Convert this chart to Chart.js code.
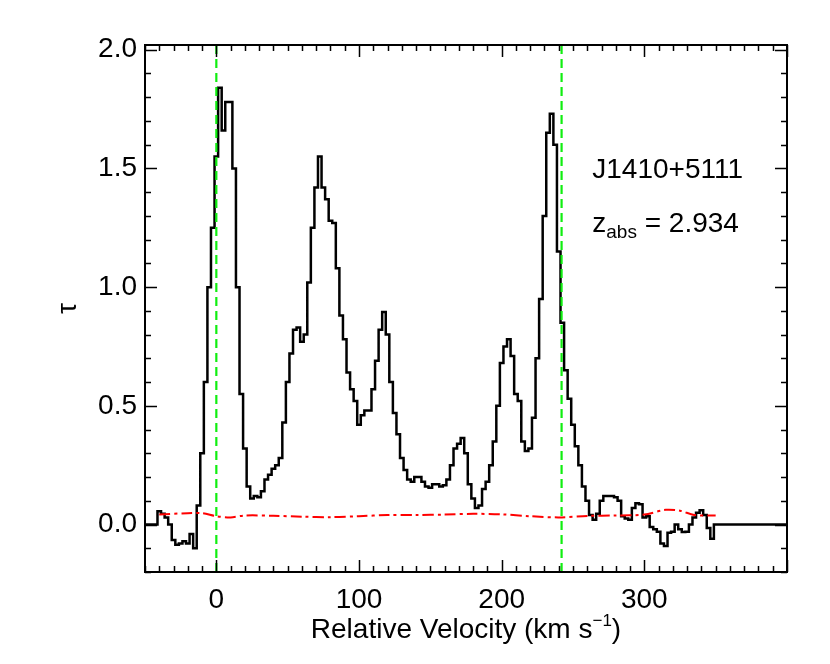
<!DOCTYPE html>
<html>
<head>
<meta charset="utf-8">
<script src="https://cdn.jsdelivr.net/npm/chart.js@4.4.1/dist/chart.umd.min.js"></script>
<style>
  html, body { margin: 0; padding: 0; background: #fff; }
  #plot { display: block; }
</style>
</head>
<body>
<canvas id="plot" width="830" height="664"></canvas>
<script>
// velocity grid (km/s) and optical depth
const velocity = [
  -50, -47.5, -45, -42.5, -40, -37.5, -35, -32.5, -30, -27.5, -25, -22.5, -20, -17.5, -15, -12.5,
  -10, -7.5, -5, -2.5, 0, 2.5, 5, 7.5, 10, 12.5, 15, 17.5, 20, 22.5, 25, 27.5,
  30, 32.5, 35, 37.5, 40, 42.5, 45, 47.5, 50, 52.5, 55, 57.5, 60, 62.5, 65, 67.5,
  70, 72.5, 75, 77.5, 80, 82.5, 85, 87.5, 90, 92.5, 95, 97.5, 100, 102.5, 105, 107.5,
  110, 112.5, 115, 117.5, 120, 122.5, 125, 127.5, 130, 132.5, 135, 137.5, 140, 142.5, 145, 147.5,
  150, 152.5, 155, 157.5, 160, 162.5, 165, 167.5, 170, 172.5, 175, 177.5, 180, 182.5, 185, 187.5,
  190, 192.5, 195, 197.5, 200, 202.5, 205, 207.5, 210, 212.5, 215, 217.5, 220, 222.5, 225, 227.5,
  230, 232.5, 235, 237.5, 240, 242.5, 245, 247.5, 250, 252.5, 255, 257.5, 260, 262.5, 265, 267.5,
  270, 272.5, 275, 277.5, 280, 282.5, 285, 287.5, 290, 292.5, 295, 297.5, 300, 302.5, 305, 307.5,
  310, 312.5, 315, 317.5, 320, 322.5, 325, 327.5, 330, 332.5, 335, 337.5, 340, 342.5, 345, 347.5,
  350, 400
];
const tau = [
  0, 0, 0, 0, 0.056, 0.045, 0.03, 0.0, -0.065, -0.085, -0.08, -0.07, -0.08, -0.04, -0.1, 0.08,
  0.3, 0.6, 1.0, 1.25, 1.55, 1.84, 1.66, 1.78, 1.78, 1.5, 1.0, 0.55, 0.32, 0.16, 0.11, 0.12,
  0.115, 0.14, 0.19, 0.21, 0.235, 0.25, 0.28, 0.43, 0.6, 0.72, 0.82, 0.83, 0.77, 0.8, 1.02, 1.25,
  1.42, 1.55, 1.42, 1.37, 1.28, 1.27, 1.08, 0.88, 0.78, 0.64, 0.57, 0.52, 0.42, 0.46, 0.48, 0.48,
  0.57, 0.69, 0.82, 0.895, 0.8, 0.6, 0.47, 0.38, 0.28, 0.23, 0.19, 0.18, 0.2, 0.2, 0.18, 0.16,
  0.155, 0.17, 0.17, 0.16, 0.165, 0.19, 0.25, 0.32, 0.34, 0.365, 0.3, 0.17, 0.11, 0.07, 0.08, 0.15,
  0.18, 0.25, 0.35, 0.5, 0.68, 0.75, 0.78, 0.71, 0.55, 0.52, 0.35, 0.31, 0.32, 0.45, 0.7, 0.95,
  1.3, 1.65, 1.73, 1.6, 1.15, 0.85, 0.65, 0.53, 0.42, 0.33, 0.25, 0.16, 0.1, 0.04, 0.02, 0.045,
  0.1, 0.12, 0.12, 0.12, 0.115, 0.1, 0.035, 0.025, 0.02, 0.07, 0.09, 0.085, 0.03, 0.035, -0.01, -0.02,
  -0.03, -0.08, -0.09, -0.035, -0.03, 0.0, -0.02, -0.032, -0.03, 0.0, 0.03, 0.05, 0.06, 0.04, -0.015, -0.06,
  0, 0
];

// noise level (red dash-dot)
const noiseVel = [-40, -20, -10, 0, 10, 20, 40, 60, 80, 100, 120, 140, 160, 180, 200, 220, 240, 260, 280, 300, 315, 325, 335, 350];
const noiseTau = [0.042, 0.048, 0.048, 0.035, 0.03, 0.038, 0.037, 0.033, 0.031, 0.035, 0.04, 0.04, 0.042, 0.045, 0.043, 0.035, 0.03, 0.036, 0.038, 0.042, 0.062, 0.058, 0.04, 0.038];

// velocity limits of the absorber (green dashed)
const limitVel = [0, 242];

const xTickLabels = [0, 100, 200, 300];
const yTickLabels = [0, 0.5, 1.0, 1.5, 2.0];
const xRange = [-50, 400];
const yRange = [-0.2, 2.02];

const quasarName = 'J1410+5111';
const zAbs = '2.934';

const FONT = '"Liberation Sans", Arial, Helvetica, sans-serif';
const BIG = 28;

const toPoints = (xs, ys) => xs.map((x, i) => ({ x, y: ys[i] }));

const limitSets = limitVel.map((v) => ({
  data: [{ x: v, y: yRange[0] }, { x: v, y: yRange[1] }],
  borderColor: '#10ee10',
  borderWidth: 2.2,
  borderDash: [9, 5],
  pointRadius: 0,
  fill: false,
  order: 1
}));

// frame, inward ticks, titles and labels in the IDL style
const idlFrame = {
  id: 'idlFrame',
  afterDraw(chart) {
    const { ctx, chartArea: a, scales } = chart;
    const xs = scales.x, ys = scales.y;
    ctx.save();
    ctx.strokeStyle = '#000';
    ctx.lineWidth = 2;
    ctx.strokeRect(a.left, a.top, a.right - a.left, a.bottom - a.top);

    ctx.lineWidth = 1.5;
    ctx.beginPath();
    for (let v = -50; v <= 400; v += 10) {
      const px = Math.round(xs.getPixelForValue(v)) + 0.5;
      const len = v % 100 === 0 ? 12 : 6;
      ctx.moveTo(px, a.bottom); ctx.lineTo(px, a.bottom - len);
      ctx.moveTo(px, a.top); ctx.lineTo(px, a.top + len);
    }
    for (let i = -2; i <= 20; i++) {
      const py = Math.round(ys.getPixelForValue(i / 10)) + 0.5;
      const len = i % 5 === 0 ? 12 : 6;
      ctx.moveTo(a.left, py); ctx.lineTo(a.left + len, py);
      ctx.moveTo(a.right, py); ctx.lineTo(a.right - len, py);
    }
    ctx.stroke();

    ctx.fillStyle = '#000';
    // x title with superscript
    ctx.textBaseline = 'alphabetic';
    ctx.font = BIG + 'px ' + FONT;
    const main = 'Relative Velocity (km s';
    const sup = '\u22121';
    const close = ')';
    const wMain = ctx.measureText(main).width;
    const wClose = ctx.measureText(close).width;
    ctx.font = '17px ' + FONT;
    const wSup = ctx.measureText(sup).width;
    const total = wMain + wSup + wClose;
    const x0 = (a.left + a.right) / 2 - total / 2;
    const base = 638;
    ctx.font = BIG + 'px ' + FONT;
    ctx.textAlign = 'left';
    ctx.fillText(main, x0, base);
    ctx.font = '17px ' + FONT;
    ctx.fillText(sup, x0 + wMain, base - 12);
    ctx.font = BIG + 'px ' + FONT;
    ctx.fillText(close, x0 + wMain + wSup, base);

    // y title
    ctx.save();
    ctx.translate(68, (a.top + a.bottom) / 2);
    ctx.rotate(-Math.PI / 2);
    ctx.textAlign = 'center';
    ctx.textBaseline = 'middle';
    ctx.font = BIG + 'px ' + FONT;
    ctx.fillText('\u03c4', 0, 0);
    ctx.restore();

    // object label and redshift
    const lx = xs.getPixelForValue(263.5);
    ctx.textAlign = 'left';
    ctx.font = BIG + 'px ' + FONT;
    ctx.fillText(quasarName, lx, ys.getPixelForValue(1.5) + 10);
    const zb = ys.getPixelForValue(1.274) + 10;
    ctx.fillText('z', lx, zb);
    const wz = ctx.measureText('z').width;
    ctx.font = '19px ' + FONT;
    ctx.fillText('abs', lx + wz, zb + 6);
    const wabs = ctx.measureText('abs').width;
    ctx.font = BIG + 'px ' + FONT;
    ctx.fillText(' = ' + zAbs, lx + wz + wabs, zb);
    ctx.restore();
  }
};

new Chart(document.getElementById('plot'), {
  type: 'line',
  data: {
    datasets: [
      {
        data: toPoints(velocity, tau),
        borderColor: '#000',
        borderWidth: 2.5,
        stepped: 'middle',
        pointRadius: 0,
        fill: false,
        order: 3
      },
      {
        data: toPoints(noiseVel, noiseTau),
        borderColor: '#ff0000',
        borderWidth: 2,
        borderDash: [11, 4, 3, 4],
        pointRadius: 0,
        tension: 0.3,
        fill: false,
        order: 2
      },
      ...limitSets
    ]
  },
  options: {
    responsive: false,
    animation: false,
    layout: { padding: { left: 0, right: 43, top: 45, bottom: 0 } },
    plugins: { legend: { display: false }, tooltip: { enabled: false } },
    scales: {
      x: {
        type: 'linear',
        min: xRange[0],
        max: xRange[1],
        grid: { display: false, drawTicks: false },
        border: { display: false },
        afterBuildTicks: (s) => { s.ticks = xTickLabels.map((v) => ({ value: v })); },
        afterFit: (s) => { s.height = 92; },
        ticks: {
          color: '#000',
          padding: 11,
          maxRotation: 0,
          font: { family: FONT, size: BIG },
          callback: (v) => String(v)
        }
      },
      y: {
        type: 'linear',
        min: yRange[0],
        max: yRange[1],
        grid: { display: false, drawTicks: false },
        border: { display: false },
        afterBuildTicks: (s) => { s.ticks = yTickLabels.map((v) => ({ value: v })); },
        afterFit: (s) => { s.width = 145; },
        ticks: {
          color: '#000',
          padding: 8,
          font: { family: FONT, size: BIG },
          callback: (v) => Number(v).toFixed(1)
        }
      }
    }
  },
  plugins: [idlFrame]
});
</script>
</body>
</html>
